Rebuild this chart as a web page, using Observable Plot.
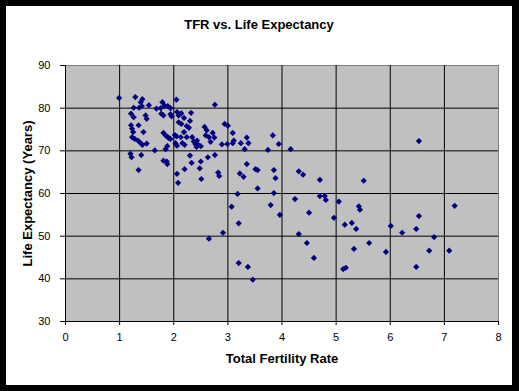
<!DOCTYPE html>
<html>
<head>
<meta charset="utf-8">
<script src="https://cdn.jsdelivr.net/npm/d3@7"></script>
<script src="https://cdn.jsdelivr.net/npm/@observablehq/plot@0.6"></script>
<style>
  html, body { margin: 0; padding: 0; background: #000; }
  #outer { width: 519px; height: 391px; background: #000; box-sizing: border-box; padding: 6px 7px 6px 6px; }
  #inner { width: 506px; height: 379px; background: #fff; overflow: hidden; }
  #title { height: 38px; line-height: 38px; text-align: center; font-family: Arial, "Liberation Sans", sans-serif; font-weight: bold; font-size: 13px; color: #000; }
</style>
</head>
<body>
<div id="outer"><div id="inner"><div id="title">TFR vs. Life Expectancy</div><div id="chart"></div></div></div>
<script>
const chartTitle = "TFR vs. Life Expectancy";
const xLabel = "Total Fertility Rate";
const yLabel = "Life Expectancy (Years)";
const xTicks = [0, 1, 2, 3, 4, 5, 6, 7, 8];
const yTicks = [30, 40, 50, 60, 70, 80, 90];

// Total fertility rate (children per woman)
const tfr = [
  0.99, 1.29, 1.42, 1.39, 1.54, 1.26, 1.36, 1.41, 1.21, 1.26,
  1.48, 1.50, 1.79, 1.83, 1.68, 1.76, 1.89, 1.94, 2.05, 1.77,
  1.81, 1.94, 1.96, 2.06, 2.09, 2.19, 2.30, 2.32, 2.76, 1.21,
  1.23, 1.25, 1.35, 1.44, 1.23, 1.28, 1.34, 1.39, 1.42, 1.50,
  1.65, 1.81, 1.85, 1.89, 2.02, 2.05, 2.09, 2.14, 1.94, 2.03,
  2.19, 2.24, 2.16, 2.20, 1.88, 2.06, 2.34, 2.37, 2.40, 2.43,
  2.45, 2.50, 2.57, 2.61, 2.59, 2.65, 2.72, 2.75, 2.68, 2.89,
  2.94, 3.00, 3.09, 3.11, 3.09, 3.35, 3.38, 3.24, 3.31, 3.83,
  3.94, 3.74, 4.16, 1.20, 1.22, 1.40, 1.87, 1.88, 1.35, 2.06,
  2.30, 2.33, 2.20, 2.50, 2.48, 2.63, 2.76, 2.51, 2.82, 2.84,
  3.35, 3.22, 3.29, 3.51, 3.55, 3.85, 3.88, 3.55, 3.18, 3.85,
  3.07, 3.79, 3.96, 3.20, 2.91, 2.65, 3.20, 3.37, 3.46, 4.31,
  4.39, 4.70, 4.24, 4.70, 4.79, 4.81, 5.05, 5.42, 5.44, 4.50,
  4.96, 4.31, 4.46, 4.59, 6.53, 5.51, 7.19, 6.53, 5.16, 5.29,
  5.37, 6.01, 6.22, 6.48, 6.81, 5.33, 5.61, 5.92, 6.72, 7.09,
  5.13, 5.18, 6.48, 2.08, 2.24, 2.28, 2.14, 2.42, 2.99, 1.91,
  1.81, 1.85, 2.13
];

// Life expectancy (years)
const lifeExp = [
  82.4, 82.6, 82.1, 81.4, 80.7, 80.1, 80.1, 80.5, 78.7, 77.9,
  78.3, 77.5, 81.4, 80.6, 79.9, 80.0, 80.5, 80.0, 82.0, 78.7,
  78.3, 78.6, 78.1, 79.1, 78.3, 77.7, 77.0, 78.9, 80.8, 76.0,
  75.2, 74.4, 76.0, 74.4, 73.2, 72.8, 72.4, 71.8, 71.4, 71.7,
  70.1, 74.2, 73.6, 73.2, 73.7, 73.4, 76.7, 76.3, 72.8, 71.8,
  74.4, 73.2, 71.8, 71.4, 71.1, 71.2, 73.2, 72.2, 71.6, 72.4,
  71.4, 71.1, 75.6, 74.8, 73.6, 73.2, 74.2, 73.1, 72.1, 71.5,
  76.3, 75.9, 74.2, 72.4, 71.8, 73.1, 71.8, 71.8, 70.4, 73.6,
  71.6, 70.2, 70.4, 69.3, 68.5, 69.0, 67.5, 66.9, 65.5, 64.6,
  68.9, 67.2, 65.7, 67.5, 65.9, 68.5, 69.0, 63.4, 64.9, 64.1,
  66.9, 64.7, 63.9, 65.7, 65.5, 65.5, 63.6, 61.2, 59.9, 60.1,
  56.9, 57.3, 55.0, 53.0, 50.8, 49.4, 43.7, 42.8, 39.8, 65.2,
  64.4, 63.2, 58.7, 59.4, 59.4, 58.5, 58.1, 57.0, 56.2, 55.5,
  54.3, 50.5, 48.4, 44.9, 72.3, 63.0, 57.1, 54.7, 52.7, 53.1,
  51.7, 52.4, 50.8, 51.7, 49.8, 47.0, 48.4, 46.3, 46.6, 46.6,
  42.3, 42.6, 42.8, 62.5, 75.8, 75.4, 78.8, 70.9, 71.6, 73.0,
  67.7, 70.4, 73.2
];

const points = tfr.map((x, i) => ({tfr: x, life: lifeExp[i]}));

const chart = Plot.plot({
  width: 506,
  height: 341,
  marginTop: 21,
  marginLeft: 59,
  marginRight: 14,
  marginBottom: 64,
  style: {background: "#fff", color: "#000", fontFamily: "Arial, 'Liberation Sans', sans-serif", fontSize: "11px"},
  x: {domain: [xTicks[0], xTicks[xTicks.length - 1]]},
  y: {domain: [yTicks[0], yTicks[yTicks.length - 1]]},
  marks: [
    Plot.frame({fill: "#C0C0C0", stroke: "#808080"}),
    Plot.gridX(xTicks.slice(1, -1), {stroke: "#000", strokeOpacity: 1}),
    Plot.gridY(yTicks.slice(1, -1), {stroke: "#000", strokeOpacity: 1}),
    Plot.ruleX([xTicks[0]], {stroke: "#000"}),
    Plot.ruleY([yTicks[0]], {stroke: "#000"}),
    Plot.axisX(xTicks, {tickSize: 4, tickPadding: 8, label: null, fontSize: 11}),
    Plot.axisY(yTicks, {tickSize: 5, tickPadding: 10, label: null, fontSize: 11}),
    Plot.text([xLabel], {frameAnchor: "bottom", dy: 41, fontWeight: "bold", fontSize: 13}),
    Plot.text([yLabel], {frameAnchor: "left", textAnchor: "middle", dx: -38, rotate: -90, fontWeight: "bold", fontSize: 13}),
    Plot.dot(points, {x: "tfr", y: "life", symbol: "diamond2", r: 2.8, fill: "#000080", stroke: "none"})
  ]
});
document.getElementById("chart").appendChild(chart);
</script>
</body>
</html>
